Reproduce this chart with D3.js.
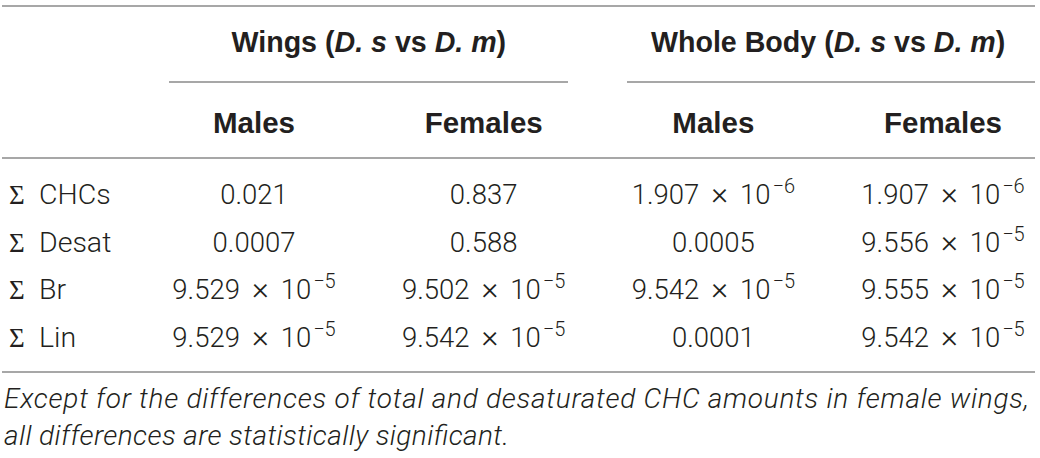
<!DOCTYPE html>
<html>
<head>
<meta charset="utf-8">
<script src="https://cdn.jsdelivr.net/npm/d3@7"></script>
<style>
  body { margin: 0; background: #fff; }
</style>
</head>
<body>
<div id="table"></div>
<script>
// table contents
const groups = ['Wings', 'Whole Body']
const subCols = ['Males', 'Females']
const rowLabels = ['CHCs', 'Desat', 'Br', 'Lin']
// p values per column, top to bottom
const wingsMales = ['0.021', '0.0007', '9.529e-5', '9.529e-5']
const wingsFemales = ['0.837', '0.588', '9.502e-5', '9.542e-5']
const bodyMales = ['1.907e-6', '0.0005', '9.542e-5', '0.0001']
const bodyFemales = ['1.907e-6', '9.556e-5', '9.555e-5', '9.542e-5']
const footnote = [
  'Except for the differences of total and desaturated CHC amounts in female wings,',
  'all differences are statistically significant.'
]

const width = 1040, height = 458
const lineColor = '#a7a7a7'
const ink = '#231f20'
const sans = 'Liberation Sans'
const light = 'Roboto'

const svg = d3.select('#table')
  .append('svg')
  .attr('width', width)
  .attr('height', height)
  .attr('font-family', sans)
  .attr('fill', ink)

const columns = [wingsMales, wingsFemales, bodyMales, bodyFemales]
const colKeys = d3.range(columns.length)

const x = d3.scalePoint().domain(colKeys).range([254, 943])
const y = d3.scalePoint().domain(rowLabels).range([204, 347])

// rules
const rules = [
  { x1: 2, x2: 1035, y: 6 },
  { x1: 169, x2: 568, y: 82 },
  { x1: 627, x2: 1035, y: 82 },
  { x1: 2, x2: 1035, y: 158 },
  { x1: 2, x2: 1035, y: 372 }
]
svg.selectAll('line.rule')
  .data(rules)
  .join('line')
  .attr('class', 'rule')
  .attr('x1', d => d.x1)
  .attr('x2', d => d.x2)
  .attr('y1', d => d.y)
  .attr('y2', d => d.y)
  .attr('stroke', lineColor)
  .attr('stroke-width', 2)

// group headers, e.g. "Wings (D. s vs D. m)"
const groupHead = svg.selectAll('text.group')
  .data(groups)
  .join('text')
  .attr('class', 'group')
  .attr('x', (d, i) => (x(i * 2) + x(i * 2 + 1)) / 2)
  .attr('y', 52)
  .attr('text-anchor', 'middle')
  .attr('font-size', 28.6)
  .attr('font-weight', 'bold')
groupHead.each(function (d) {
  const t = d3.select(this)
  t.append('tspan').text(d + ' (')
  t.append('tspan').attr('font-style', 'italic').text('D. s')
  t.append('tspan').text(' vs ')
  t.append('tspan').attr('font-style', 'italic').text('D. m')
  t.append('tspan').text(')')
})

// sub headers
svg.selectAll('text.sub')
  .data(colKeys)
  .join('text')
  .attr('class', 'sub')
  .attr('x', d => x(d))
  .attr('y', 133)
  .attr('text-anchor', 'middle')
  .attr('font-size', 29.5)
  .attr('font-weight', 'bold')
  .text(d => subCols[d % 2])

// row labels
const labels = svg.selectAll('text.label')
  .data(rowLabels)
  .join('text')
  .attr('class', 'label')
  .attr('x', 9)
  .attr('y', d => y(d))
  .attr('font-family', light)
  .attr('font-weight', 300)
  .attr('font-size', 28.5)
labels.append('tspan')
  .attr('font-family', 'Liberation Serif')
  .attr('font-weight', 400)
  .attr('font-size', 27)
  .text('Σ')
labels.append('tspan')
  .attr('x', 39)
  .text(d => d)

// cells
const cells = []
columns.forEach((col, ci) => {
  col.forEach((v, ri) => cells.push({ col: ci, row: rowLabels[ri], value: v }))
})

const cellText = svg.selectAll('text.cell')
  .data(cells)
  .join('text')
  .attr('class', 'cell')
  .attr('x', d => x(d.col))
  .attr('y', d => y(d.row))
  .attr('text-anchor', 'middle')
  .attr('font-family', light)
  .attr('font-weight', 300)
  .attr('font-size', 27.5)

cellText.each(function (d) {
  const t = d3.select(this)
  if (d.value.includes('e')) {
    const [mant, exp] = d.value.split('e')
    t.append('tspan').text(mant)
    t.append('tspan').attr('dx', 12).attr('font-size', 32).text('×')
    t.append('tspan').attr('dx', 12).text('10')
    t.append('tspan')
      .attr('dx', 2)
      .attr('dy', -11)
      .attr('font-size', 20)
      .text('−' + exp.replace('-', ''))
  } else {
    t.text(d.value)
  }
})

// footnote
svg.selectAll('text.note')
  .data(footnote)
  .join('text')
  .attr('class', 'note')
  .attr('x', 4)
  .attr('y', (d, i) => 408 + i * 37)
  .attr('font-family', light)
  .attr('font-weight', 300)
  .attr('font-style', 'italic')
  .attr('font-size', 28)
  .text(d => d)
  .each(function (d, i) {
    // stretch to the line length of the original face
    const target = i === 0 ? 1025 : 505
    d3.select(this).attr('textLength', target).attr('lengthAdjust', 'spacing')
  })
</script>
</body>
</html>
